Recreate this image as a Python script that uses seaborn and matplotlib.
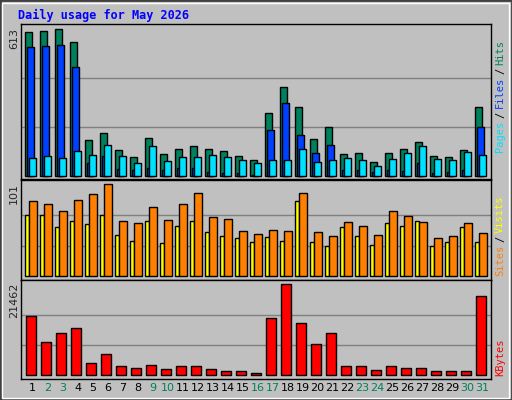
import numpy as np
import matplotlib
matplotlib.use("Agg")
import matplotlib.pyplot as plt
import seaborn as sns

days = list(range(1, 32))
hits = [600,605,613,559,150,179,108,79,158,92,113,125,113,104,83,67,263,371,288,154,204,92,96,58,96,113,142,83,79,108,288]
files = [538,542,546,455,54,83,29,25,33,25,33,33,17,13,13,4,192,304,171,96,129,25,25,17,25,21,54,13,17,25,204]
pages = [75,83,75,104,88,129,83,54,125,63,79,79,88,79,67,54,67,67,113,58,67,75,67,42,71,96,125,71,67,100,88]
visits = [67,67,54,61,57,67,45,39,61,36,55,60,48,44,42,38,43,39,82,38,33,54,44,34,58,55,60,33,37,54,37]
sites = [82,79,72,84,90,101,61,58,76,62,79,91,65,63,50,46,51,50,91,48,44,59,55,45,72,66,59,42,44,58,47]
kbytes = [13915,7783,9906,11085,2830,4953,2123,1651,2358,1415,2123,2123,1415,943,943,472,13443,21462,12264,7311,9906,2123,2123,1179,2123,1651,1651,943,943,943,18632]
weekend = [2,3,9,10,16,17,23,24,30,31]
title = "Daily usage for May 2026"

sns.set_style("white")
plt.rcParams['font.family'] = ['DejaVu Sans Mono', 'DejaVu Sans']
BG = "#C0C0C0"
W, H = 512, 400
fig = plt.figure(figsize=(W/100, H/100), dpi=100, facecolor=BG)

def mkax(top, bottom):
    return fig.add_axes([21/W, 1-bottom/H, 470/W, (bottom-top)/H], facecolor=BG)

d = np.array(days, dtype=float)
XL = (0.23, 0.23 + 470/15)

def setup(ax, mx, lo, up, base_h):
    ax.set_xlim(*XL)
    ax.set_ylim(-lo/base_h*mx, up/base_h*mx)
    for f in (1/3, 2/3):
        ax.axhline(mx*f, color="#808080", lw=1, zorder=0)
    ax.set_xticks([]); ax.set_yticks([])
    ax.set_xlabel(""); ax.set_ylabel("")
    for s in ax.spines.values():
        s.set_color("black"); s.set_linewidth(1)

def bars(ax, xs, ys, w, c):
    sns.barplot(x=xs, y=ys, native_scale=True, width=w, color=c, edgecolor="black",
                linewidth=1, ax=ax, saturation=1, zorder=2)

ax1 = mkax(24.3, 178.5)
bars(ax1, d-0.27, hits, 0.47, "#00805C")
bars(ax1, d-0.13, files, 0.47, "#0040FF")
bars(ax1, d, pages, 0.47, "#00E0FF")
setup(ax1, 613, 2.2, 152, 147)

ax2 = mkax(180, 279.7)
bars(ax2, d-0.36, visits, 0.27, "#FFFF00")
bars(ax2, d+0.03, sites, 0.53, "#FF8000")
setup(ax2, 101, 3.4, 96.3, 92.3)

ax3 = mkax(279.7, 379)
bars(ax3, d-0.1, kbytes, 0.67, "#FF0000")
setup(ax3, 21462, 3.7, 95.6, 91)

def ft(x, y, s, **kw):
    return fig.text(x/W, 1-y/H, s, **kw)

ft(18, 15, title, color="#0000FF", fontsize=8.5, fontweight="bold", va="center", ha="left")
ft(14, 28, "613", rotation=90, fontsize=8, va="top", ha="center", family="DejaVu Sans")
ft(14, 183, "101", rotation=90, fontsize=8, va="top", ha="center", family="DejaVu Sans")
ft(14, 283, "21462", rotation=90, fontsize=8, va="top", ha="center", family="DejaVu Sans")

for day in days:
    x = 21 + (day - XL[0]) * 15
    ft(x, 388, str(day), fontsize=8, ha="center", va="center", family="DejaVu Sans",
       color="#00805C" if day in weekend else "black")

renderer = fig.canvas.get_renderer()
def vlabel(parts, ybottom):
    y = ybottom
    for s, c in parts:
        t = ft(500, y, s, rotation=90, fontsize=7.5, color=c, ha="center", va="bottom")
        bb = t.get_window_extent(renderer)
        y -= bb.height + 3
vlabel([("Pages", "#00E0FF"), ("/", "black"), ("Files", "#0040FF"), ("/", "black"), ("Hits", "#00805C")], 152)
vlabel([("Sites", "#FF8000"), ("/", "black"), ("Visits", "#FFFF00")], 276)
vlabel([("KBytes", "#FF0000")], 376)

from matplotlib.patches import Rectangle
fig.patches.append(Rectangle((0, 0), 1, 1, transform=fig.transFigure, fill=False, edgecolor="#404040", lw=2))
fig.patches.append(Rectangle((2/W, 2/H), 1-5/W, 1-5/H, transform=fig.transFigure, fill=False, edgecolor="white", lw=1))

fig.savefig("out.png", dpi=100, facecolor=BG)
